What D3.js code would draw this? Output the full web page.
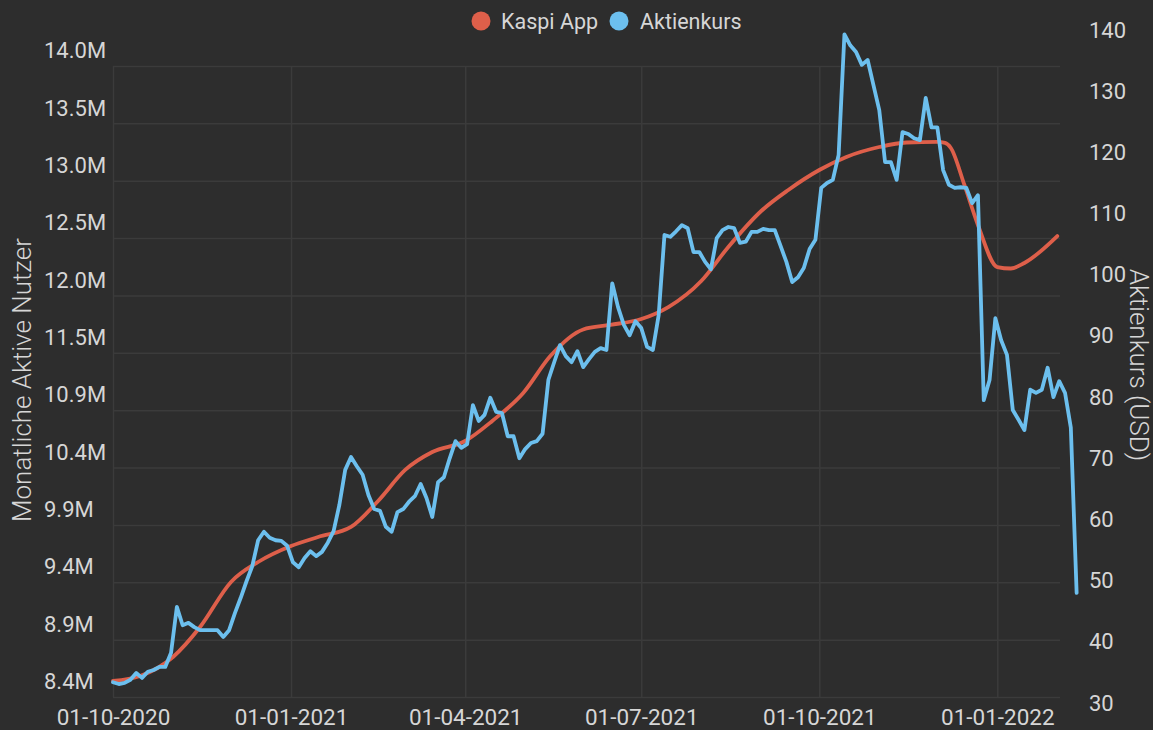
<!DOCTYPE html>
<html>
<head>
<meta charset="utf-8">
<script src="https://cdn.jsdelivr.net/npm/d3@7"></script>
<style>
  html, body { margin: 0; padding: 0; background: #2d2d2d; }
  svg { display: block; }
  text { font-family: Roboto, "Noto Sans", sans-serif; }
</style>
</head>
<body>
<svg id="chart" width="1153" height="730"></svg>
<script>
// ---------- DATA ----------
const seriesNames = ["Kaspi App", "Aktienkurs"];
const seriesColors = ["#de5f4a", "#6cbfee"];

// Kaspi App monthly active users (millions)
const mauDates = [
  "2020-10-01","2020-10-15","2020-11-01","2020-11-15","2020-12-01","2020-12-15",
  "2021-01-01","2021-01-15","2021-02-01","2021-02-15","2021-03-01","2021-03-15",
  "2021-04-01","2021-04-15","2021-05-01","2021-05-15","2021-06-01","2021-06-15",
  "2021-07-01","2021-07-15","2021-08-01","2021-08-15","2021-09-01","2021-09-15",
  "2021-10-01","2021-10-15","2021-11-01","2021-11-15","2021-12-01","2021-12-05",
  "2021-12-08","2021-12-15","2021-12-22","2022-01-01","2022-01-08","2022-01-15","2022-02-01"
];
const mauValues = [
  8.542, 8.586, 8.755, 9.021, 9.421, 9.598,
  9.740, 9.820, 9.909, 10.140, 10.415, 10.574,
  10.672, 10.850, 11.098, 11.426, 11.662, 11.702,
  11.755, 11.861, 12.092, 12.394, 12.713, 12.900,
  13.077, 13.193, 13.281, 13.321, 13.326, 13.317,
  13.272, 12.944, 12.589, 12.216, 12.203, 12.252, 12.491
];

// Share price (USD), one reading every 3 days from the start date
const priceStart = "2020-10-01";
const priceStepDays = 3;
const priceValues = [
  33.4, 33.1, 33.3, 33.8, 34.9, 34.1, 35.1, 35.4, 35.9, 35.9,
  38.2, 45.7, 42.7, 43.1, 42.4, 41.9, 41.9, 41.9, 41.9, 40.8,
  41.9, 44.7, 47.2, 49.9, 52.4, 56.6, 58.0, 57.0, 56.6, 56.5,
  55.7, 53.0, 52.2, 53.7, 54.8, 54.0, 54.7, 56.2, 58.1, 62.4,
  68.1, 70.2, 68.7, 67.3, 64.0, 61.7, 61.4, 58.8, 58.0, 61.2,
  61.7, 62.9, 63.8, 65.8, 63.5, 60.4, 66.1, 66.9, 70.0, 72.8,
  71.7, 72.3, 78.7, 76.1, 77.1, 79.9, 77.6, 77.4, 73.6, 73.6,
  70.0, 71.5, 72.5, 72.8, 74.0, 82.8, 85.7, 88.5, 86.7, 85.7,
  87.5, 84.9, 86.2, 87.4, 88.0, 87.7, 98.6, 94.7, 91.8, 90.1,
  92.4, 91.3, 88.2, 87.7, 93.4, 106.5, 106.2, 107.1, 108.1, 107.6,
  103.7, 103.7, 102.1, 100.9, 106.0, 107.3, 107.8, 107.6, 105.2, 105.4,
  107.0, 107.0, 107.5, 107.3, 107.3, 104.7, 102.1, 98.8, 99.6, 101.1,
  104.2, 105.7, 114.2, 115.0, 115.5, 119.6, 139.3, 137.5, 136.4, 134.3,
  135.1, 131.0, 126.9, 118.4, 118.4, 115.5, 123.3, 123.0, 122.3, 122.0,
  128.9, 124.1, 124.1, 117.1, 114.7, 114.2, 114.3, 114.2, 111.7, 113.0,
  79.5, 82.8, 92.9, 89.3, 86.9, 77.9, 76.3, 74.6, 81.2, 80.7,
  81.2, 84.8, 80.0, 82.6, 80.7, 75.0, 48.0
];

// Axis ticks
const xTickDates = ["2020-10-01","2021-01-01","2021-04-01","2021-07-01","2021-10-01","2022-01-01"];
const mauTickLabels = ["8.4M","8.9M","9.4M","9.9M","10.4M","10.9M","11.5M","12.0M","12.5M","13.0M","13.5M","14.0M"];
const mauMin = 8.4, mauMax = 14.0;
const priceTicks = [30, 40, 50, 60, 70, 80, 90, 100, 110, 120, 130, 140];
const leftTitle = "Monatliche Aktive Nutzer";
const rightTitle = "Aktienkurs (USD)";

// ---------- CHART ----------
const svg = d3.select("#chart");
const plot = { left: 113, right: 1060, top: 66, bottom: 697 };
const textColor = "#d6d6d6";
const gridColor = "#3b3b3b";
const parse = d3.timeParse("%Y-%m-%d");

const x = d3.scaleTime()
  .domain([parse("2020-10-01"), parse("2022-01-01")])
  .range([113, 997.3]);

const yL = d3.scaleLinear().domain([mauMin, mauMax]).range([plot.bottom, plot.top]);
const yR = d3.scaleLinear().domain([30, 140]).range([703, 30]);

const mauTickValues = d3.range(mauTickLabels.length).map(i => mauMin + i * (mauMax - mauMin) / (mauTickLabels.length - 1));

// Horizontal grid
const gH = svg.append("g")
  .attr("transform", `translate(${plot.left},0)`)
  .call(d3.axisRight(yL).tickValues(mauTickValues).tickSize(plot.right - plot.left).tickFormat(""));
gH.select(".domain").remove();
gH.selectAll("line").attr("stroke", gridColor).attr("stroke-width", 1.5);

// Vertical grid
const gV = svg.append("g")
  .attr("transform", `translate(0,${plot.bottom})`)
  .call(d3.axisBottom(x).tickValues(xTickDates.map(parse)).tickSize(-(plot.bottom - plot.top)).tickFormat(""));
gV.select(".domain").remove();
gV.selectAll("line").attr("stroke", gridColor).attr("stroke-width", 1.5);

// Left axis labels
const gL = svg.append("g")
  .attr("transform", "translate(44,0)")
  .call(d3.axisRight(yL).tickValues(mauTickValues).tickSize(0).tickPadding(0)
    .tickFormat((d, i) => mauTickLabels[i]));
gL.select(".domain").remove();
gL.selectAll("text")
  .attr("fill", textColor).attr("font-size", 22).attr("dy", "-0.38em")
  .attr("font-family", "Roboto");

// Right axis labels
const gR = svg.append("g")
  .attr("transform", "translate(1089,0)")
  .call(d3.axisRight(yR).tickValues(priceTicks).tickSize(0).tickPadding(0));
gR.select(".domain").remove();
gR.selectAll("text")
  .attr("fill", textColor).attr("font-size", 22).attr("font-family", "Roboto");

// Bottom axis labels
const gX = svg.append("g")
  .attr("transform", `translate(0,${plot.bottom})`)
  .call(d3.axisBottom(x).tickValues(xTickDates.map(parse)).tickSize(0).tickPadding(12)
    .tickFormat(d3.timeFormat("%d-%m-%Y")));
gX.select(".domain").remove();
gX.selectAll("text")
  .attr("fill", textColor).attr("font-size", 22.5).attr("font-family", "Roboto");

// Axis titles
svg.append("text")
  .attr("transform", "translate(22,380) rotate(-90)")
  .attr("text-anchor", "middle").attr("dy", "0.35em")
  .attr("fill", textColor).attr("font-size", 26).attr("font-weight", 300)
  .text(leftTitle);
svg.append("text")
  .attr("transform", "translate(1139,365) rotate(90)")
  .attr("text-anchor", "middle").attr("dy", "0.35em")
  .attr("fill", textColor).attr("font-size", 26).attr("font-weight", 300)
  .text(rightTitle);

// Lines
const mauData = mauDates.map((d, i) => ({ date: parse(d), value: mauValues[i] }));
const start = parse(priceStart);
const priceData = priceValues.map((v, i) => ({ date: d3.timeDay.offset(start, i * priceStepDays), value: v }));

svg.append("path")
  .datum(mauData)
  .attr("fill", "none")
  .attr("stroke", seriesColors[0])
  .attr("stroke-width", 3.8)
  .attr("stroke-linejoin", "round")
  .attr("stroke-linecap", "round")
  .attr("d", d3.line().x(d => x(d.date)).y(d => yL(d.value)).curve(d3.curveMonotoneX));

svg.append("path")
  .datum(priceData)
  .attr("fill", "none")
  .attr("stroke", seriesColors[1])
  .attr("stroke-width", 3.8)
  .attr("stroke-linejoin", "round")
  .attr("stroke-linecap", "round")
  .attr("d", d3.line().x(d => x(d.date)).y(d => yR(d.value)));

// Legend
const legend = svg.append("g");
const legendItems = [{ cx: 481, tx: 501 }, { cx: 619, tx: 640 }];
seriesNames.forEach((name, i) => {
  legend.append("circle")
    .attr("cx", legendItems[i].cx).attr("cy", 21).attr("r", 9.5)
    .attr("fill", seriesColors[i]);
  legend.append("text")
    .attr("x", legendItems[i].tx).attr("y", 29)
    .attr("fill", textColor).attr("font-size", 21.5)
    .text(name);
});
</script>
</body>
</html>
